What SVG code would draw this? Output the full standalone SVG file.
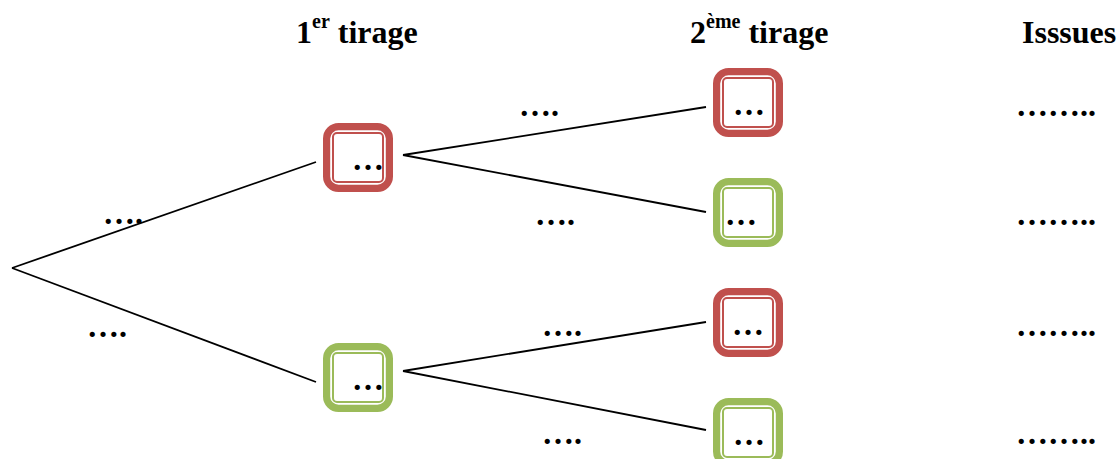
<svg xmlns="http://www.w3.org/2000/svg" width="1120" height="459" viewBox="0 0 1120 459">
<style>
text{font-family:"Liberation Serif","Times New Roman",serif;font-weight:bold;fill:#000}
.h{font-size:32px}
.sup{font-size:20px}
.d{font-size:32px}
.red{color:#C0504D}
.green{color:#9BBB59}
#connectors line{stroke:#000;stroke-width:1.8}
</style>
<defs>
<g id="box">
<rect x="3.6" y="3.6" width="62.8" height="61.8" rx="12" fill="none" stroke="currentColor" stroke-width="7.2"/>
<rect x="10" y="10" width="50" height="49" rx="4" fill="none" stroke="currentColor" stroke-width="2"/>
</g>
</defs>
<rect width="1120" height="459" fill="#fff"/>
<g id="headers">
<text class="h" x="296" y="43">1<tspan class="sup" dy="-15">er</tspan><tspan dy="15"> tirage</tspan></text>
<text class="h" x="690" y="43">2<tspan class="sup" dy="-15">ème</tspan><tspan dy="15"> tirage</tspan></text>
<text class="h" x="1022" y="43">Isssues</text>
</g>
<g id="connectors">
<line x1="12" y1="268" x2="316" y2="162"/>
<line x1="12" y1="268" x2="316" y2="382"/>
<line x1="403" y1="155" x2="706" y2="107"/>
<line x1="403" y1="155" x2="706" y2="212"/>
<line x1="403" y1="371" x2="706" y2="322"/>
<line x1="403" y1="371" x2="706" y2="430"/>
</g>
<g id="n1" class="red" transform="translate(323,123)"><use href="#box"/><text class="d" x="29" y="46.5">…</text></g>
<g id="n2" class="green" transform="translate(323,343)"><use href="#box"/><text class="d" x="29" y="46.5">…</text></g>
<g id="n3" class="red" transform="translate(713,68)"><use href="#box"/><text class="d" x="20" y="46.5">…</text></g>
<g id="n4" class="green" transform="translate(713,178)"><use href="#box"/><text class="d" x="12" y="46.5">…</text></g>
<g id="n5" class="red" transform="translate(713,288)"><use href="#box"/><text class="d" x="19" y="46.5">…</text></g>
<g id="n6" class="green" transform="translate(713,398)"><use href="#box"/><text class="d" x="20" y="46.5">…</text></g>
<g id="labels">
<text class="d" x="103" y="223.5">….</text>
<text class="d" x="87" y="336.5">….</text>
<text class="d" x="519" y="115.5">….</text>
<text class="d" x="535" y="224.5">….</text>
<text class="d" x="542" y="335.5">….</text>
<text class="d" x="542" y="443.5">….</text>
</g>
<g id="issues">
<text class="d" x="1016" y="115.5">……..</text>
<text class="d" x="1016" y="224.5">……..</text>
<text class="d" x="1016" y="335.5">……..</text>
<text class="d" x="1016" y="443.5">……..</text>
</g>
</svg>
